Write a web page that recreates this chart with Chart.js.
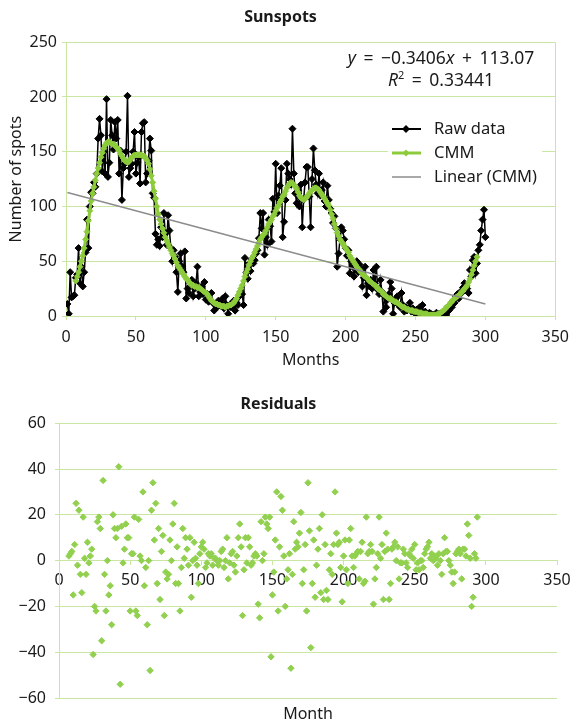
<!DOCTYPE html>
<html>
<head>
<meta charset="utf-8">
<script src="https://cdn.jsdelivr.net/npm/chart.js@4.4.1/dist/chart.umd.min.js"></script>
<style>
  body { margin: 0; background: #fff; font-family: 'Noto Sans', sans-serif; color: #1a1a1a; }
  .panel { position: absolute; left: 0; width: 577px; }
  #top { top: 0; height: 375px; }
  #bottom { top: 375px; height: 349px; }
  .equation { position: absolute; left: 341px; width: 200px; top: 46px; text-align: center; font-size: 17.5px; line-height: 22px; word-spacing: 3px; white-space: nowrap; }
  .equation sup { font-size: 11px; vertical-align: 7px; line-height: 0; }
</style>
</head>
<body>
<div class="panel" id="top">
  <canvas id="sunspotChart"></canvas>
  <div class="equation">
    <div><i>y</i> = −0.3406<i>x</i> + 113.07</div>
    <div><i>R</i><sup>2</sup> = 0.33441</div>
  </div>
</div>
<div class="panel" id="bottom">
  <canvas id="residualChart"></canvas>
</div>
<script>
// raw monthly counts, month 1..300
const firstMonth = 1;
const rawSpots = [
  11, 2, 40, 17, 18, 19, 35, 38, 62, 30,
  45, 27, 40, 58, 88, 62, 100, 113, 112, 122,
  118, 130, 162, 180, 165, 132, 150, 130, 198, 127,
  140, 179, 165, 152, 177, 162, 179, 130, 151, 106,
  135, 139, 150, 201, 127, 135, 139, 150, 168, 130,
  140, 145, 121, 168, 176, 177, 122, 130, 142, 162,
  151, 112, 108, 75, 65, 70, 64, 81, 72, 94,
  75, 65, 92, 78, 62, 50, 60, 54, 40, 22,
  50, 57, 45, 40, 59, 16, 25, 21, 30, 33,
  18, 25, 30, 45, 18, 22, 27, 20, 31, 15,
  20, 13, 15, 21, 12, 5, 10, 8, 14, 12,
  9, 16, 7, 18, 10, 2, 10, 8, 12, 14,
  5, 12, 10, 18, 22, 20, 10, 53, 40, 34,
  48, 41, 52, 48, 51, 57, 60, 71, 94, 80,
  94, 56, 72, 65, 88, 82, 68, 107, 95, 139,
  94, 110, 119, 135, 72, 86, 106, 139, 130, 125,
  120, 171, 130, 112, 103, 115, 100, 120, 81, 106,
  122, 136, 136, 109, 81, 125, 153, 133, 120, 112,
  130, 110, 115, 122, 105, 100, 119, 106, 98, 94,
  85, 91, 80, 45, 57, 70, 81, 78, 70, 62,
  55, 60, 39, 50, 45, 36, 44, 50, 40, 47,
  42, 27, 35, 45, 19, 30, 27, 33, 25, 42,
  30, 45, 24, 20, 33, 22, 4, 18, 8, 15,
  20, 31, 25, 2, 12, 16, 18, 10, 8, 21,
  10, 4, 8, 5, 7, 12, 4, 7, 5, 2,
  6, 3, 8, 2, 10, 1, 4, 2, 1, 3,
  2, 1, 1, 0, 3, 1, 2, 0, 1, 4,
  1, 1, 6, 5, 10, 8, 14, 12, 18, 20,
  16, 22, 21, 26, 30, 27, 25, 21, 42, 36,
  51, 54, 39, 48, 60, 65, 78, 88, 97, 72
];

// centred moving mean, months 7..294
const cmmStartMonth = 7;
const cmmSpots = [
  32, 36, 40, 45, 50, 55, 62, 70, 77, 87, 96, 105,
  112, 118, 124, 130, 135, 140, 145, 149, 153, 156, 158, 159,
  159, 158, 157, 157, 156, 154, 153, 151, 148, 146, 144, 142,
  141, 140, 141, 143, 145, 146, 147, 147, 147, 147, 147, 147,
  146, 146, 144, 142, 139, 134, 128, 122, 114, 107, 100, 93,
  88, 84, 80, 76, 72, 69, 66, 63, 60, 57, 55, 52,
  49, 46, 44, 42, 40, 38, 36, 34, 33, 31, 30, 28,
  28, 27, 27, 26, 26, 25, 24, 23, 22, 21, 20, 18,
  16, 14, 13, 12, 11, 11, 10, 10, 9, 9, 9, 8,
  9, 9, 10, 10, 11, 12, 14, 16, 19, 22, 25, 28,
  32, 36, 40, 43, 47, 50, 53, 55, 58, 61, 64, 67,
  70, 72, 74, 75, 78, 81, 84, 86, 88, 91, 93, 96,
  99, 101, 104, 106, 109, 111, 114, 117, 119, 121, 122, 121,
  120, 118, 116, 113, 110, 108, 107, 106, 107, 108, 110, 112,
  114, 115, 116, 117, 117, 116, 115, 113, 111, 109, 107, 105,
  103, 101, 97, 93, 89, 84, 80, 76, 73, 70, 68, 66,
  64, 62, 60, 58, 55, 53, 51, 49, 47, 45, 43, 42,
  40, 39, 37, 36, 35, 34, 32, 31, 30, 29, 28, 27,
  25, 24, 23, 22, 20, 19, 18, 17, 16, 16, 15, 14,
  13, 13, 12, 11, 10, 9, 8, 8, 7, 6, 6, 5,
  5, 5, 4, 4, 4, 3, 3, 3, 2, 2, 2, 2,
  1, 1, 1, 1, 1, 1, 1, 2, 2, 3, 4, 5,
  6, 8, 9, 10, 12, 13, 15, 16, 17, 18, 19, 20,
  22, 23, 25, 26, 28, 31, 34, 38, 42, 46, 50, 54
];

// residuals, months 7..294
const residuals = [
  2, 3, 4, -15, 7, 25, -2, 22, -6, -14, 19, 1,
  -6, 8, -1, 2, 5, -41, -20, -22, 17, 19, 14, -35,
  35, -6, -22, 0, -15, -11, -28, 20, 14, 10, 14, 41,
  -54, 15, -1, 5, 16, 10, 10, -22, 3, 3, 19, -22,
  -24, 18, 2, 0, 30, -11, -3, -28, 0, -48, 22, 34,
  9, 25, -10, 14, -17, 4, 11, -24, -5, -8, -6, 9,
  0, 16, 25, -10, 6, -10, -22, -3, 14, 1, 10, 5,
  -2, 10, -16, 0, 8, 1, -2, -10, 3, 6, 8, 5,
  -3, -1, 3, 2, 3, -2, 1, 1, 0, -2, 0, 4,
  5, -3, 0, 10, -8, -1, 3, 4, -2, -5, 2, 10,
  16, 6, -24, -4, 10, -1, 10, 6, -2, -1, 2, 3,
  2, -19, -25, 17, 0, 3, 19, 16, 14, 19, -42, -15,
  -5, 9, 30, -22, 6, 28, 22, 2, -20, -8, -4, 3,
  -47, -6, 17, 5, 8, 6, 12, 21, -10, -4, 7, -22,
  34, 13, -38, -10, 9, -16, -2, 5, 14, -14, 20, -17,
  7, -13, -17, -4, 3, -6, 7, 30, 12, 7, 8, -3,
  -18, 2, 9, -4, -10, 9, 14, 2, -3, 2, 3, 4,
  -8, 4, 8, -10, -9, 19, 3, 4, 7, 4, -19, -8,
  -3, 3, 19, 1, 7, -17, 4, 12, 5, -17, -10, 5,
  6, 8, 0, 6, -8, -1, -1, 5, 3, -1, -3, 3,
  2, 5, 1, 7, -4, -1, -4, 0, 0, -3, 3, 5,
  6, 8, 1, 3, 0, 2, 1, -2, 3, 0, -6, 3,
  10, 4, 4, 0, -2, -5, -10, -5, 3, 4, 5, 3,
  -8, 5, 5, 2, 16, 11, 1, -20, -16, 3, 1, 19
];

// trendline from the chart label
const trendSlope = -0.3406;
const trendIntercept = 113.07;
const trendRange = [1, 300];

const GRID = '#c9e6a3';
const GREEN = '#8ccb3a';
const RESID_GREEN = '#92d050';
const TEXT = '#1a1a1a';

Chart.defaults.font.family = "'Noto Sans', sans-serif";
Chart.defaults.font.size = 16;
Chart.defaults.color = TEXT;

const rawPoints = rawSpots.map((v, i) => ({ x: firstMonth + i, y: v }));
const cmmPoints = cmmSpots.map((v, i) => ({ x: cmmStartMonth + i, y: v }));
const trendPoints = trendRange.map(x => ({ x, y: trendSlope * x + trendIntercept }));
const residPoints = residuals.map((v, i) => ({ x: cmmStartMonth + i, y: v }));

const frameLines = {
  id: 'frameLines',
  afterDraw(chart) {
    const { ctx, chartArea } = chart;
    ctx.save();
    ctx.strokeStyle = GRID;
    ctx.lineWidth = 1;
    ctx.beginPath();
    ctx.moveTo(Math.round(chartArea.right) + 0.5, chartArea.top);
    ctx.lineTo(Math.round(chartArea.right) + 0.5, chartArea.bottom);
    ctx.stroke();
    ctx.restore();
  }
};

const legendBox = {
  id: 'legendBox',
  afterDraw(chart) {
    const ctx = chart.ctx;
    const items = [
      { label: 'Raw data', color: '#000', width: 2, marker: 4 },
      { label: 'CMM', color: GREEN, width: 3, marker: 3.5 },
      { label: 'Linear (CMM)', color: '#8c8c8c', width: 1.5, marker: 0 }
    ];
    ctx.save();
    ctx.fillStyle = '#fff';
    ctx.fillRect(388, 116, 154, 72);
    ctx.font = "16.5px 'Noto Sans', sans-serif";
    ctx.textBaseline = 'middle';
    items.forEach((item, i) => {
      const y = 129 + i * 24;
      ctx.strokeStyle = item.color;
      ctx.lineWidth = item.width;
      ctx.beginPath();
      ctx.moveTo(392, y);
      ctx.lineTo(421, y);
      ctx.stroke();
      if (item.marker) {
        ctx.fillStyle = item.color;
        ctx.beginPath();
        ctx.moveTo(406, y - item.marker);
        ctx.lineTo(406 + item.marker, y);
        ctx.lineTo(406, y + item.marker);
        ctx.lineTo(406 - item.marker, y);
        ctx.closePath();
        ctx.fill();
      }
      ctx.fillStyle = TEXT;
      ctx.fillText(item.label, 434, y);
    });
    ctx.restore();
  }
};

new Chart(document.getElementById('sunspotChart'), {
  type: 'scatter',
  data: {
    datasets: [
      {
        label: 'Raw data',
        data: rawPoints,
        showLine: true,
        borderColor: '#000',
        backgroundColor: '#000',
        borderWidth: 1.5,
        pointStyle: 'rectRot',
        pointRadius: 3.5,
        pointBorderWidth: 1,
        order: 3
      },
      {
        label: 'CMM',
        data: cmmPoints,
        showLine: true,
        borderColor: GREEN,
        backgroundColor: GREEN,
        borderWidth: 3,
        pointStyle: 'rectRot',
        pointRadius: 3,
        pointBorderWidth: 1,
        order: 2
      },
      {
        label: 'Linear (CMM)',
        data: trendPoints,
        showLine: true,
        borderColor: '#8c8c8c',
        borderWidth: 1.5,
        pointRadius: 0,
        order: 1
      }
    ]
  },
  options: {
    responsive: true,
    maintainAspectRatio: false,
    animation: false,
    layout: { padding: { left: 0, right: 16, top: 0, bottom: 0 } },
    plugins: {
      legend: { display: false },
      tooltip: { enabled: false },
      title: {
        display: true,
        text: 'Sunspots',
        font: { size: 16, weight: 'bold' },
        padding: { top: 8, bottom: 15 }
      }
    },
    scales: {
      x: {
        type: 'linear',
        min: 0,
        max: 350,
        ticks: { stepSize: 50, padding: 8 },
        grid: { display: true, drawOnChartArea: false, color: GRID, tickLength: 4 },
        border: { color: GRID },
        title: { display: true, text: 'Months', padding: { top: 0, bottom: 5 } },
        afterFit(scale) { scale.height = 59; }
      },
      y: {
        min: 0,
        max: 250,
        ticks: { stepSize: 50, padding: 5 },
        grid: { color: GRID, tickLength: 4 },
        border: { color: GRID },
        title: { display: true, text: 'Number of spots', padding: { top: 7, bottom: 0 } },
        afterFit(scale) { scale.width = 66; }
      }
    }
  },
  plugins: [frameLines, legendBox]
});

new Chart(document.getElementById('residualChart'), {
  type: 'scatter',
  data: {
    datasets: [{
      label: 'Residuals',
      data: residPoints,
      xAxisID: 'x',
      yAxisID: 'y',
      backgroundColor: RESID_GREEN,
      borderColor: RESID_GREEN,
      pointStyle: 'rectRot',
      pointRadius: 3.2,
      pointBorderWidth: 1
    }]
  },
  options: {
    responsive: true,
    maintainAspectRatio: false,
    animation: false,
    layout: { padding: { left: 0, right: 20, top: 0, bottom: 0 } },
    plugins: {
      legend: { display: false },
      tooltip: { enabled: false },
      title: {
        display: true,
        text: 'Residuals',
        font: { size: 16, weight: 'bold' },
        padding: { top: 20, bottom: 9 }
      }
    },
    scales: {
      x: {
        type: 'linear',
        position: { y: 0 },
        min: 0,
        max: 350,
        ticks: { stepSize: 50, padding: 6 },
        grid: { display: true, drawOnChartArea: false, color: GRID, tickLength: 4 },
        border: { color: GRID },
        afterFit(scale) { scale.height = 0; }
      },
      x2: {
        type: 'linear',
        position: 'bottom',
        min: 0,
        max: 350,
        ticks: { display: false },
        grid: { display: false },
        border: { display: false },
        title: { display: true, text: 'Month', padding: { top: 0, bottom: 0 } },
        afterFit(scale) { scale.height = 26; }
      },
      y: {
        min: -60,
        max: 60,
        ticks: {
          stepSize: 20,
          padding: 9,
          callback: v => String(v).replace('-', '\u2212')
        },
        grid: { color: GRID, tickLength: 4 },
        border: { color: GRID },
        afterFit(scale) { scale.width = 59; }
      }
    }
  }
});
</script>
</body>
</html>
